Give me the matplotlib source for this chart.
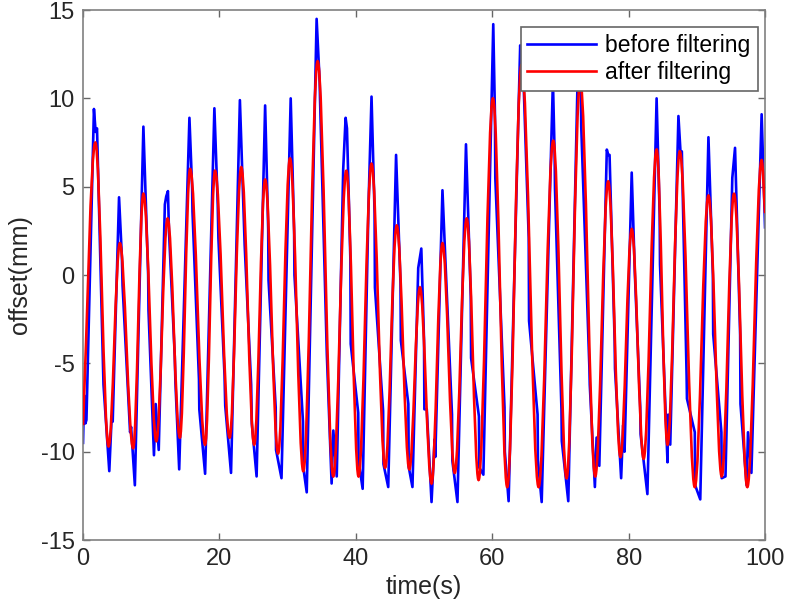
import matplotlib
matplotlib.use('Agg')
import matplotlib.pyplot as plt
from matplotlib.path import Path
from matplotlib.patches import PathPatch

# filtered signal: turning points (time s, offset mm)
red_t = [0.0, 1.8, 3.75, 5.4, 7.35, 8.85, 10.75, 12.4, 14.2, 15.7, 17.9, 19.35,
         21.5, 23.2, 25.1, 26.7, 28.6, 30.35, 32.3, 34.4, 36.7, 38.6, 40.4, 42.3,
         44.3, 46.0, 47.85, 49.4, 51.1, 52.7, 54.5, 56.25, 58.0, 60.1, 62.2, 64.3,
         66.8, 68.95, 70.9, 72.9, 75.1, 77.0, 78.8, 80.45, 82.2, 84.1, 85.7, 87.5,
         89.7, 91.7, 93.65, 95.45, 97.4, 99.5, 100.0]
red_v = [-8.5, 7.5, -9.7, 1.8, -9.8, 4.6, -9.4, 3.2, -9.2, 6.0, -9.6, 5.9,
         -9.2, 6.1, -9.6, 5.4, -10.1, 6.6, -11.1, 12.1, -11.4, 5.9, -11.4, 6.3,
         -10.9, 2.8, -11.0, -0.7, -11.8, 1.8, -11.2, 3.2, -11.6, 10.0, -12.0, 11.9,
         -12.0, 7.6, -11.5, 11.0, -11.4, 5.3, -10.3, 2.6, -10.4, 7.1, -9.6, 7.0,
         -12.0, 4.5, -11.4, 4.6, -12.0, 6.5, 3.5]

# raw signal (spikes and kinks)
blue_t = [0.0, 0.15, 0.35, 0.5, 1.6, 1.85, 2.05, 2.9, 3.0, 3.85, 4.2, 4.35,
          5.28, 5.7, 5.8, 6.65, 6.9, 7.05, 7.6, 8.85, 9.55, 9.6, 10.4, 10.65, 11.1,
          12.0, 12.2, 12.45, 12.6, 13.45, 13.55, 14.1, 15.6, 16.0, 16.05, 17.0, 17.05,
          17.9, 19.26, 19.75, 19.85, 20.75, 20.85, 21.7, 23.0, 23.6, 23.7, 24.65, 24.75,
          25.45, 26.7, 27.15, 27.2, 28.25, 28.3, 29.1, 30.45, 30.95, 31.0, 32.25, 32.3,
          32.8, 34.25, 34.7, 34.75, 35.7, 35.75, 36.45, 36.7, 37.2, 38.15, 38.5, 38.7,
          39.2, 39.25, 40.35, 40.4, 41.0, 41.85, 42.3, 42.75, 42.8, 44.0, 44.05, 44.75,
          45.9, 46.55, 46.6, 47.7, 47.75, 48.3, 49.15, 49.6, 50.0, 50.05, 50.4, 51.1,
          51.55, 51.65, 52.7, 53.2, 54.1, 54.15, 54.9, 56.15, 56.85, 56.9, 58.05, 58.1,
          58.7, 60.15, 60.4, 60.45, 61.8, 61.85, 62.4, 64.1, 64.3, 64.45, 65.35, 65.4,
          66.65, 66.7, 67.25, 68.9, 69.15, 69.2, 70.15, 70.2, 71.15, 72.6, 73.0, 73.05,
          74.25, 74.3, 75.05, 75.3, 75.7, 76.8, 77.0, 77.2, 77.95, 78.0, 78.9, 79.2,
          79.4, 80.45, 80.9, 81.7, 81.75, 82.75, 84.1, 84.55, 84.6, 85.7, 85.8, 86.1,
          87.3, 87.6, 87.8, 88.5, 88.55, 89.7, 89.75, 90.5, 91.7, 92.35, 92.4, 93.6,
          93.65, 94.2, 95.2, 95.6, 96.35, 96.4, 97.3, 97.5, 98.0, 99.5, 100.0]
blue_v = [-9.5, -6.8, -8.4, -8.2, 9.4, 8.1, 8.3, -4.7, -6.2, -11.1, -8.0, -8.3,
          4.4, 1.0, -0.6, -7.1, -8.9, -8.6, -11.9, 8.4, 0.0, -2.0, -10.2, -7.3, -9.9,
          4.0, 4.45, 4.75, 2.5, -4.6, -6.1, -11.0, 8.9, 4.9, 3.6, -5.9, -7.6,
          -11.25, 9.44, 4.0, 2.1, -5.7, -7.4, -11.2, 9.9, 3.0, 1.7, -6.2, -8.4,
          -11.4, 9.6, 2.6, -0.3, -7.5, -9.9, -11.5, 10.0, 2.5, 0.0, -8.3, -10.9,
          -12.3, 14.5, 10.9, 10.0, -3.9, -4.5, -11.8, -8.8, -11.4, 6.0, 8.9, 8.3,
          0.9, -3.9, -7.8, -10.5, -12.1, 3.8, 10.1, 3.5, -0.7, -7.7, -10.7, -12.0,
          6.8, -0.5, -3.7, -7.3, -10.85, -12.0, 0.4, 1.5, -3.7, -7.6, -7.6, -12.85,
          -9.3, -10.3, 4.8, 0.2, -7.9, -10.5, -12.85, 7.4, -1.2, -4.7, -8.0, -10.9,
          -11.3, 14.2, 9.0, 5.5, -7.5, -10.0, -12.8, 13.0, 12.0, 12.6, 2.1, -2.6,
          -7.9, -10.5, -12.85, 11.0, 6.8, 4.9, -7.6, -9.4, -12.8, 12.5, 10.6, 8.4,
          -5.3, -6.2, -12.0, -9.2, -10.8, 7.1, 6.8, 6.8, -3.75, -5.3, -11.5, -8.5,
          -10.0, 5.8, 0.2, -7.5, -9.0, -12.4, 10.0, 3.4, 0.6, -10.6, -7.9, -9.6,
          9.0, 7.0, 7.0, -5.7, -7.0, -8.9, -11.9, -12.7, 7.8, 0.0, -3.35, -8.9,
          -11.5, -11.4, 5.5, 7.2, -3.4, -7.3, -11.9, -8.9, -11.2, 9.1, 2.7]

x_ticks = [0, 20, 40, 60, 80, 100]
y_ticks = [-15, -10, -5, 0, 5, 10, 15]

plt.rcParams['font.family'] = ['Liberation Sans', 'DejaVu Sans']
plt.rcParams['axes.unicode_minus'] = False
FS = 17


def smooth_path(t, v, k=0.36):
    # cubic segments with flat tangents at the turning points
    verts = [(t[0], v[0])]
    codes = [Path.MOVETO]
    n = len(t)
    for i in range(n - 1):
        dx = t[i + 1] - t[i]
        dy = v[i + 1] - v[i]
        if i > 0:
            c1 = (t[i] + k * dx, v[i])
        else:
            c1 = (t[i] + dx / 3, v[i] + dy / 3)
        if i + 1 < n - 1:
            c2 = (t[i + 1] - k * dx, v[i + 1])
        else:
            c2 = (t[i + 1] - dx / 3, v[i + 1] - dy / 3)
        verts += [c1, c2, (t[i + 1], v[i + 1])]
        codes += [Path.CURVE4] * 3
    return Path(verts, codes)


fig = plt.figure(figsize=(7.87, 6.12), dpi=100)
ax = fig.add_axes([0.1055, 0.1176, 0.8666, 0.866])

ax.plot(blue_t, blue_v, color='#0000ff', lw=1.9, label='before filtering', zorder=2)
ax.add_patch(PathPatch(smooth_path(red_t, red_v), fill=False, edgecolor='#ff0000',
                       lw=1.9, zorder=3))
ax.plot([], [], color='#ff0000', lw=1.9, label='after filtering')

ax.set_xlim(0, 100)
ax.set_ylim(-15, 15)
ax.set_xticks(x_ticks)
ax.set_yticks(y_ticks)
ax.tick_params(direction='in', length=5, width=1, colors='0.4', labelcolor='0.15',
               labelsize=FS, top=True, right=True, pad=6)
for s in ax.spines.values():
    s.set_color('0.5')
    s.set_linewidth(1.2)

ax.set_xlabel('time(s)', fontsize=FS + 1, color='0.15', labelpad=3)
ax.set_ylabel('offset(mm)', fontsize=FS + 1, color='0.15', labelpad=6)

leg = ax.legend(loc='upper right', bbox_to_anchor=(0.989, 0.968), fontsize=FS - 0.5,
                fancybox=False, framealpha=1, edgecolor='0.4', handlelength=3.0,
                handletextpad=0.4, borderpad=0.3, labelspacing=0.2, borderaxespad=0)
leg.get_frame().set_linewidth(1.2)

fig.savefig('out.png', dpi=100)
